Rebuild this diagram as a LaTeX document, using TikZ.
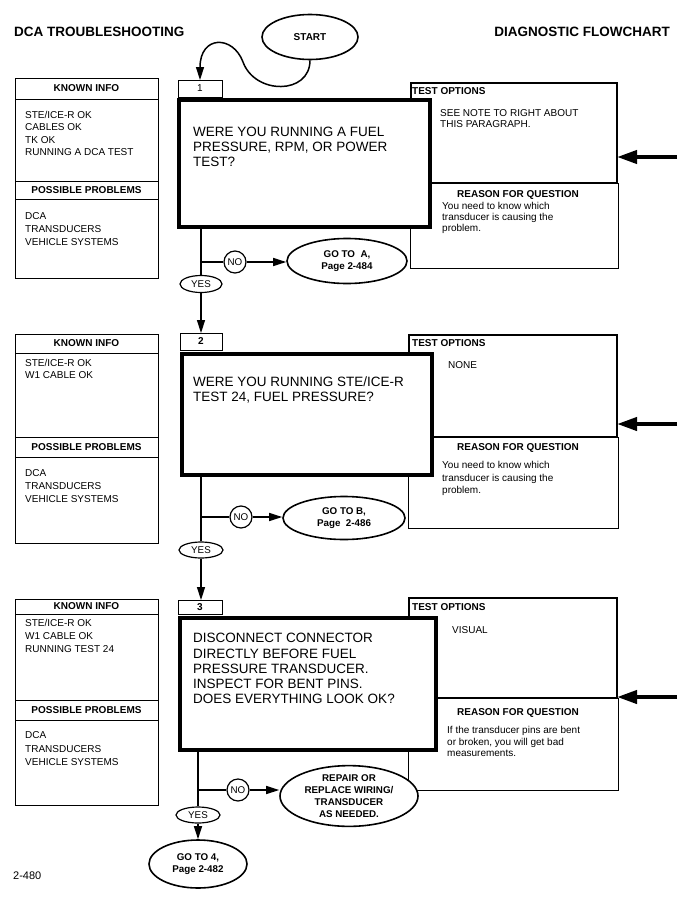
\documentclass[tikz,border=0pt]{standalone}
\usepackage{fontspec}
\setmainfont{Liberation Sans}
\usetikzlibrary{shapes.geometric,arrows.meta}
\newcommand{\myfs}[2]{\fontsize{#1}{#2}\selectfont}
\newcommand{\BX}[6]{\node[#6, minimum width={(#4-#2)*1pt}, minimum height={(#5-#3)*1pt}] (#1) at ({(#2+#4)/2},{(#3+#5)/2}) {};}
\begin{document}
\begin{tikzpicture}[x=1pt,y=-1pt,
 thinb/.style={draw, line width=1pt, inner sep=0pt, outer sep=0pt},
 thickb/.style={draw, line width=2pt, inner sep=0pt, outer sep=0pt},
 qbox/.style={draw, line width=4pt, fill=white, inner sep=0pt, outer sep=0pt},
 hdr/.style={font=\bfseries\myfs{10}{12}, inner sep=0pt},
 lbl/.style={font=\bfseries\myfs{10}{12}, inner sep=0pt, anchor=base west},
 body/.style={font=\myfs{10}{#1}, align=left, anchor=base west, inner sep=0pt},
 body/.default=12.5,
 qtext/.style={font=\myfs{13.5}{#1}, align=left, anchor=base west, inner sep=0pt},
 qtext/.default=15,
 num/.style={font=\bfseries\myfs{10}{12}, inner sep=0pt},
 flow/.style={line width=1.5pt},
 arr/.style={line width=1.5pt, -{Triangle[length=13pt,width=8pt]}},
 big/.style={line width=4pt, -{Triangle[length=20pt,width=13pt]}},
 oval/.style={ellipse, draw, line width=1.6pt, fill=white, inner sep=0pt, align=center, font=\bfseries\myfs{9.8}{12}},
 yn/.style={ellipse, draw, line width=1.2pt, fill=white, inner sep=0pt, font=\myfs{9.8}{11}},
 title/.style={font=\bfseries\myfs{13.5}{16}, inner sep=0pt}
]
\fill[white] (0,0) rectangle (689,902);
\useasboundingbox (0,0) rectangle (689,902);

% titles
\node[title, anchor=west] (t1) at (14,32) {DCA TROUBLESHOOTING};
\node[title, anchor=east] (t2) at (670,32) {DIAGNOSTIC FLOWCHART};
\node[oval, minimum width=96pt, minimum height=45pt, font=\bfseries\myfs{10}{12}] (start) at (310,37) {START};

% ================= SECTION 1 =================
\BX{ki1h}{15}{78}{158}{99}{thinb}
\BX{ki1b}{15}{99}{158}{181}{thinb}
\BX{pp1h}{15}{181}{158}{199}{thinb}
\BX{pp1b}{15}{199}{158}{278}{thinb}
\node[hdr] (ki1t) at (ki1h) {KNOWN INFO};
\node[hdr] (pp1t) at (pp1h) {POSSIBLE PROBLEMS};
\node[body=12.3] (ki1x) at (25,155.5) {STE/ICE-R OK\\CABLES OK\\TK OK\\RUNNING A DCA TEST};
\node[body=12.8] (pp1x) at (25,245.2) {DCA\\TRANSDUCERS\\VEHICLE SYSTEMS};

\BX{to1b}{410}{183}{618}{268}{thinb}
\BX{to1a}{411}{83}{617}{183}{thickb}
\node[lbl] (to1l) at (412,94.3) {TEST OPTIONS};
\node[body=10.5] (to1x) at (440,127.1) {SEE NOTE TO RIGHT ABOUT\\THIS PARAGRAPH.};
\node[hdr] (rq1h) at (518,195) {REASON FOR QUESTION};
\node[body=11] (rq1x) at (442,231.6) {You need to know which\\transducer is causing the\\problem.};

\BX{num1}{178}{80}{222}{97}{thinb}
\node[num, font=\myfs{10}{12}] (num1t) at (num1) {1};
\BX{q1}{179}{100}{430}{227}{qbox}
\node[qtext] (q1t) at (193,166.8) {WERE YOU RUNNING A FUEL\\PRESSURE, RPM, OR POWER\\TEST?};

\coordinate (ar1) at (677,157);
\draw[big] (ar1) -- (ar1 -| to1a.east);

\draw[arr] (start.south) .. controls (310,95) and (255,95) .. (243,62)
  .. controls (233,35) and (200,35) .. (num1.north);

\node[yn, minimum width=42pt, minimum height=17pt] (yes1) at (201,284) {YES};
\node[yn, circle, minimum size=22pt] (no1) at (235,262) {NO};
\node[oval, minimum width=120pt, minimum height=45pt] (goa) at (347,261) {GO TO~ A,\\Page 2-484};
\coordinate (b1) at (yes1.north |- no1);
\draw[flow] (yes1.north |- q1.south) -- (yes1.north);
\draw[flow] (b1) -- (no1.west);
\draw[arr] (no1.east) -- (no1 -| goa.west);

% ================= SECTION 2 =================
\BX{ki2h}{15}{334}{158}{353}{thinb}
\BX{ki2b}{15}{353}{158}{437}{thinb}
\BX{pp2h}{15}{437}{158}{457}{thinb}
\BX{pp2b}{15}{457}{158}{543}{thinb}
\node[hdr] (ki2t) at (ki2h) {KNOWN INFO};
\node[hdr] (pp2t) at (pp2h) {POSSIBLE PROBLEMS};
\node[body=12] (ki2x) at (25,378.6) {STE/ICE-R OK\\W1 CABLE OK};
\node[body=12.8] (pp2x) at (25,502.2) {DCA\\TRANSDUCERS\\VEHICLE SYSTEMS};

\BX{to2b}{408}{437}{618}{528}{thinb}
\BX{to2a}{409}{335}{617}{437}{thickb}
\node[lbl] (to2l) at (412,346.6) {TEST OPTIONS};
\node[body] (to2x) at (448,368.6) {NONE};
\node[hdr] (rq2h) at (518,448) {REASON FOR QUESTION};
\node[body=12.5] (rq2x) at (442,493.6) {You need to know which\\transducer is causing the\\problem.};

\BX{num2}{180}{333}{222}{350}{thinb}
\node[num] (num2t) at (num2) {2};
\BX{q2}{182}{354}{432}{475}{qbox}
\node[qtext=14.5] (q2t) at (193,401.3) {WERE YOU RUNNING STE/ICE-R\\TEST 24, FUEL PRESSURE?};

\coordinate (ar2) at (677,424);
\draw[big] (ar2) -- (ar2 -| to2a.east);

\draw[arr] (yes1.south) -- (yes1.south |- num2.north);

\node[yn, minimum width=44pt, minimum height=16pt] (yes2) at (201,550) {YES};
\node[yn, circle, minimum size=22pt] (no2) at (241,517) {NO};
\node[oval, minimum width=122pt, minimum height=43pt] (gob) at (344,518) {GO TO B,\\Page~ 2-486};
\coordinate (b2) at (yes2.north |- no2);
\draw[flow] (yes2.north |- q2.south) -- (yes2.north);
\draw[flow] (b2) -- (no2.west);
\draw[arr] (no2.east) -- (no2 -| gob.west);

% ================= SECTION 3 =================
\BX{ki3h}{15}{599}{158}{614}{thinb}
\BX{ki3b}{15}{614}{158}{700}{thinb}
\BX{pp3h}{15}{700}{158}{720}{thinb}
\BX{pp3b}{15}{720}{158}{805}{thinb}
\node[hdr] (ki3t) at (ki3h) {KNOWN INFO};
\node[hdr] (pp3t) at (pp3h) {POSSIBLE PROBLEMS};
\node[body=12.8] (ki3x) at (25,652.2) {STE/ICE-R OK\\W1 CABLE OK\\RUNNING TEST 24};
\node[body=13.5] (pp3x) at (25,765.6) {DCA\\TRANSDUCERS\\VEHICLE SYSTEMS};

\BX{to3b}{408}{698}{618}{790}{thinb}
\BX{to3a}{409}{598}{617}{698}{thickb}
\node[lbl] (to3l) at (412,610.6) {TEST OPTIONS};
\node[body] (to3x) at (452,633.6) {VISUAL};
\node[hdr] (rq3h) at (518,713) {REASON FOR QUESTION};
\node[body=11.5] (rq3x) at (447,756.6) {If the transducer pins are bent\\or broken, you will get bad\\measurements.};

\BX{num3}{178}{600}{222}{614}{thinb}
\node[num] (num3t) at (num3) {3};
\BX{q3}{180}{618}{436}{750}{qbox}
\node[qtext=15.2] (q3t) at (193,703.6) {DISCONNECT CONNECTOR\\DIRECTLY BEFORE FUEL\\PRESSURE TRANSDUCER.\\INSPECT FOR BENT PINS.\\DOES EVERYTHING LOOK OK?};

\coordinate (ar3) at (677,697);
\draw[big] (ar3) -- (ar3 -| to3a.east);

\draw[arr] (yes2.south) -- (yes2.south |- num3.north);

\node[yn, minimum width=44pt, minimum height=16pt] (yes3) at (198,815) {YES};
\node[yn, circle, minimum size=22pt] (no3) at (238,790) {NO};
\node[oval, minimum width=138pt, minimum height=53pt] (rep) at (349,796) {REPAIR OR\\REPLACE WIRING/\\TRANSDUCER\\AS NEEDED.};
\node[oval, minimum width=98pt, minimum height=48pt] (go4) at (198,864) {GO TO 4,\\Page 2-482};
\coordinate (b3) at (yes3.north |- no3);
\draw[flow] (yes3.north |- q3.south) -- (yes3.north);
\draw[flow] (b3) -- (no3.west);
\draw[arr] (no3.east) -- (no3 -| rep.west);
\draw[arr] (yes3.south) -- (go4.north);

\node[font=\myfs{11}{13}, anchor=base west, inner sep=0pt] (pg) at (13,879) {2-480};
\end{tikzpicture}
\end{document}
